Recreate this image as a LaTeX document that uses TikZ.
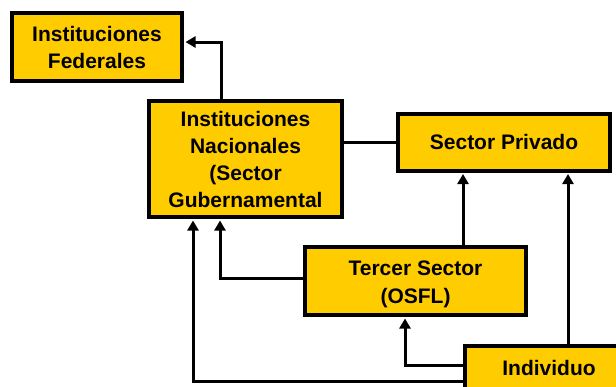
\documentclass[tikz,border=0pt]{standalone}
\usepackage{fontspec}
\setmainfont{Liberation Sans}
\usetikzlibrary{arrows.meta}
\definecolor{boxyellow}{RGB}{255,204,0}
\tikzset{
  boxfont/.style={font=\fontsize{21}{27}\selectfont\bfseries},
  box/.style={draw=black, line width=4pt, fill=boxyellow, align=center, inner sep=0pt, boxfont},
  boxtext/.style={align=center, inner sep=0pt, boxfont},
  conn/.style={line width=3pt, draw=black},
  arr/.style={conn, -{Triangle[length=10pt,width=11pt]}, shorten >=1.5pt}
}
\begin{document}
\begin{tikzpicture}[x=1pt,y=-1pt]
\useasboundingbox (0,0) rectangle (616,386);
\clip (0,0) rectangle (616,386);
\node[box, minimum width=170pt, minimum height=68pt] (fed) at (97,47) {Instituciones\\Federales};
\node[box, minimum width=193pt, minimum height=116pt] (nac) at (245.5,159) {Instituciones\\Nacionales\\(Sector\\Gubernamental};
\node[box, minimum width=212pt, minimum height=57pt] (priv) at (504,142) {Sector Privado};
\node[box, minimum width=221pt, minimum height=68pt] (ter) at (415.5,281) {};
\node[boxtext, font=\fontsize{21}{28.5}\selectfont\bfseries] (tertext) at ([yshift=-3.5pt]ter.center) {Tercer Sector\\(OSFL)};
\node[box, minimum width=168pt, minimum height=44pt] (ind) at (549,368) {Individuo};
% connectors
\draw[arr] ([xshift=-24.5pt]nac.north) |- ([yshift=5pt]fed.east);
\draw[conn] (nac.east |- priv.west) -- (priv.west);
\draw[arr] ([xshift=47.5pt]ter.north) -- ([xshift=47.5pt]ter.north |- priv.south);
\draw[arr] ([xshift=19pt]ind.north) -- ([xshift=19pt]ind.north |- priv.south);
\draw[arr] ([yshift=3pt]ter.west) -| ([xshift=-25.5pt]nac.south);
\draw[arr] ([yshift=3pt]ind.west) -| ([xshift=-10.5pt]ter.south);
\draw[arr] ([yshift=-13pt]ind.west) -| ([xshift=-52.5pt]nac.south);
\end{tikzpicture}
\end{document}
